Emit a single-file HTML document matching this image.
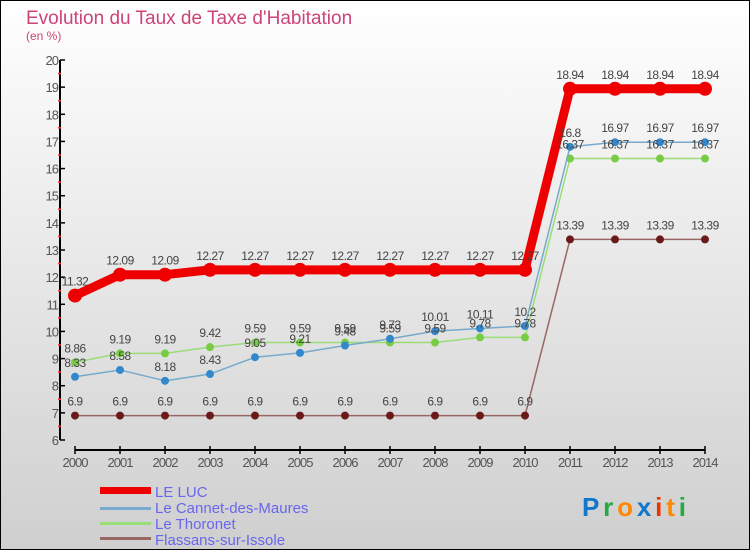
<!DOCTYPE html>
<html><head><meta charset="utf-8"><style>
body{margin:0}
svg{display:block;font-family:"Liberation Sans",sans-serif}
</style></head><body>
<svg width="750" height="550" viewBox="0 0 750 550">
<defs><linearGradient id="bg" x1="0" y1="0" x2="0" y2="1"><stop offset="0" stop-color="#ffffff"/><stop offset="1" stop-color="#cfcfcf"/></linearGradient></defs>
<rect x="0.5" y="0.5" width="749" height="549" fill="url(#bg)" stroke="#000"/>
<text x="26" y="24" font-size="19" fill="#cc4477">Evolution du Taux de Taxe d'Habitation</text>
<text x="26" y="40" font-size="12" fill="#cc4477">(en %)</text>
<g id="axes"></g>
<g id="series"></g>
<g id="legend">
<rect x="100" y="487" width="51" height="7" fill="#ee0000"/>
<text x="155" y="497" font-size="15" fill="#6666ee">LE LUC</text>
<rect x="100" y="507" width="51" height="3" fill="#77aacc"/>
<text x="155" y="513" font-size="15" fill="#6666ee">Le Cannet-des-Maures</text>
<rect x="100" y="522" width="51" height="3" fill="#99dd77"/>
<text x="155" y="529" font-size="15" fill="#6666ee">Le Thoronet</text>
<rect x="100" y="537" width="51" height="3" fill="#996666"/>
<text x="155" y="545" font-size="15" fill="#6666ee">Flassans-sur-Issole</text>
</g>
<text x="582" y="516" font-size="26" font-weight="bold" textLength="104" lengthAdjust="spacing"><tspan fill="#1177cc">P</tspan><tspan fill="#22aa44">r</tspan><tspan fill="#ff8800">o</tspan><tspan fill="#1177cc">x</tspan><tspan fill="#ee3300">i</tspan><tspan fill="#ff8800">t</tspan><tspan fill="#22aa44">i</tspan></text>
</svg>
<script>
const years=[2000,2001,2002,2003,2004,2005,2006,2007,2008,2009,2010,2011,2012,2013,2014];
const yTicks=[6,7,8,9,10,11,12,13,14,15,16,17,18,19,20];
const luc=[11.32,12.09,12.09,12.27,12.27,12.27,12.27,12.27,12.27,12.27,12.27,18.94,18.94,18.94,18.94];
const cannet=[8.33,8.58,8.18,8.43,9.05,9.21,9.48,9.73,10.01,10.11,10.2,16.8,16.97,16.97,16.97];
const thoronet=[8.86,9.19,9.19,9.42,9.59,9.59,9.59,9.59,9.59,9.78,9.78,16.37,16.37,16.37,16.37];
const flassans=[6.9,6.9,6.9,6.9,6.9,6.9,6.9,6.9,6.9,6.9,6.9,13.39,13.39,13.39,13.39];
const NS='http://www.w3.org/2000/svg';
const xs=i=>75+i*45;
const ys=v=>440-(v-6)*(380/14);
function mk(tag,at,parent){const e=document.createElementNS(NS,tag);for(const k in at)e.setAttribute(k,at[k]);parent.appendChild(e);return e;}
const ax=document.getElementById('axes');
let yl=mk('line',{x1:60,y1:60,x2:60,y2:440,stroke:'#000','stroke-width':2},ax);


yTicks.forEach(t=>{
 const y=ys(t);
 mk('line',{x1:60,y1:y,x2:65,y2:y,stroke:'#000','stroke-width':1.5},ax);
 if(t<20) mk('line',{x1:58,y1:y-13.6,x2:61,y2:y-13.6,stroke:'#ff3333','stroke-width':1.5},ax);
 const tx=mk('text',{x:58,y:y+5,'font-size':13,fill:'#555','text-anchor':'end','letter-spacing':'-1'},ax);
 tx.textContent=t;
 
 
});
let xl=mk('line',{x1:75,y1:450,x2:705,y2:450,stroke:'#000','stroke-width':2},ax);


years.forEach((yr,i)=>{
 mk('line',{x1:xs(i),y1:446,x2:xs(i),y2:454,stroke:'#000','stroke-width':1.5},ax);
 const tx=mk('text',{x:xs(i),y:467,'font-size':13,fill:'#555','text-anchor':'middle','letter-spacing':'-1'},ax);
 tx.textContent=yr;
 
 
});
const sg=document.getElementById('series');
function series(name,vals,color,dot,w,r){
 const g=mk('g',{},sg);
 
 
 const pl=mk('polyline',{points:vals.map((v,i)=>xs(i)+','+ys(v)).join(' '),fill:'none',stroke:color,'stroke-width':w,'stroke-linejoin':'round'},g);
 
 
 vals.forEach((v,i)=>{
  const c=mk('circle',{cx:xs(i),cy:ys(v),r:r,fill:dot},g);
  
  
 });
}
series('flassans',flassans,'#996666','#6b1a1a',1.5,4);
series('thoronet',thoronet,'#99dd77','#77cc44',1.5,4);
series('cannet',cannet,'#77aacc','#3388cc',1.5,4);
series('le-luc',luc,'#ee0000','#ee0000',9,7);
const lg=mk('g',{},sg);
[luc,cannet,thoronet,flassans].forEach(vals=>{
 vals.forEach((v,i)=>{
  const t=mk('text',{x:xs(i),y:ys(v)-10,'font-size':12,fill:'#444','text-anchor':'middle','letter-spacing':'-0.5'},lg);
  t.textContent=v;
  
  
 });
});
</script>
</body></html>
